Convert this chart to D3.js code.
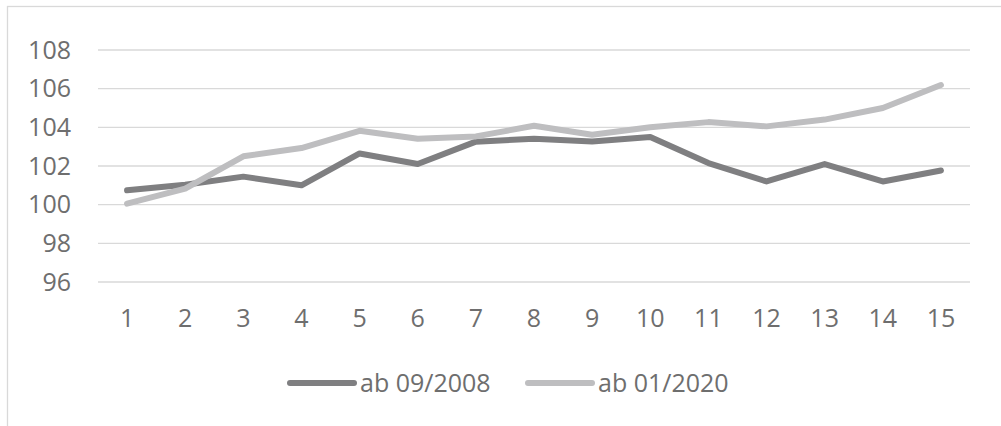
<!DOCTYPE html>
<html>
<head>
<meta charset="utf-8">
<script src="https://cdn.jsdelivr.net/npm/d3@7"></script>
<style>
  html, body { margin: 0; padding: 0; background: #fff; }
  svg { display: block; font-family: "Open Sans", sans-serif; }
</style>
</head>
<body>
<svg id="chart" width="1001" height="426"></svg>
<script>
// x categories and the two index series
const categories = ['1', '2', '3', '4', '5', '6', '7', '8', '9', '10', '11', '12', '13', '14', '15'];
const series2008 = [100.74, 101.03, 101.45, 101.0, 102.65, 102.1, 103.26, 103.41, 103.27, 103.5, 102.15, 101.2, 102.1, 101.2, 101.77];
const series2020 = [100.05, 100.83, 102.5, 102.93, 103.82, 103.41, 103.53, 104.08, 103.62, 104.0, 104.27, 104.05, 104.4, 105.0, 106.19];
const yTicks = [96, 98, 100, 102, 104, 106, 108];
const seriesNames = ['ab 09/2008', 'ab 01/2020'];

const colors = ['#7f7f81', '#bebec0'];
const textColor = '#6e6e6e';
const fontSize = '25px';

const svg = d3.select('#chart');

// chart frame
svg.append('rect')
  .attr('x', 7.5).attr('y', 6.5)
  .attr('width', 1010).attr('height', 440)
  .attr('fill', 'none')
  .attr('stroke', '#d9d9d9')
  .attr('stroke-width', 1.3);

// plot area
const plot = { left: 98, right: 970, top: 50, bottom: 282 };

const x = d3.scaleBand()
  .domain(categories)
  .range([plot.left, plot.right]);

const y = d3.scaleLinear()
  .domain([96, 108])
  .range([plot.bottom, plot.top]);

// gridlines
svg.append('g')
  .selectAll('line')
  .data(yTicks)
  .join('line')
  .attr('x1', plot.left).attr('x2', plot.right)
  .attr('y1', d => y(d)).attr('y2', d => y(d))
  .attr('stroke', '#d9d9d9')
  .attr('stroke-width', 1.4);

// y axis labels
const yAxis = svg.append('g')
  .attr('transform', `translate(${plot.left - 27},0)`)
  .call(d3.axisLeft(y).tickValues(yTicks).tickSize(0).tickPadding(0));
yAxis.select('.domain').remove();
yAxis.selectAll('text')
  .attr('fill', textColor)
  .style('font-size', fontSize)
  .style('font-family', '"Open Sans", sans-serif');

// x axis labels
const xAxis = svg.append('g')
  .attr('transform', `translate(0,${plot.bottom + 27})`)
  .call(d3.axisBottom(x).tickSize(0).tickPadding(0));
xAxis.select('.domain').remove();
xAxis.selectAll('text')
  .attr('fill', textColor)
  .style('font-size', fontSize)
  .style('font-family', '"Open Sans", sans-serif');

// lines
const line = d3.line()
  .x((d, i) => x(categories[i]) + x.bandwidth() / 2)
  .y(d => y(d));

[series2008, series2020].forEach((s, i) => {
  svg.append('path')
    .datum(s)
    .attr('d', line)
    .attr('fill', 'none')
    .attr('stroke', colors[i])
    .attr('stroke-width', 6)
    .attr('stroke-linecap', 'round')
    .attr('stroke-linejoin', 'round');
});

// legend
const legendX = [290, 528];
const legendY = 383;
const legend = svg.append('g');
seriesNames.forEach((name, i) => {
  legend.append('line')
    .attr('x1', legendX[i]).attr('x2', legendX[i] + 64)
    .attr('y1', legendY).attr('y2', legendY)
    .attr('stroke', colors[i])
    .attr('stroke-width', 6)
    .attr('stroke-linecap', 'round');
  legend.append('text')
    .attr('x', legendX[i] + 70)
    .attr('y', legendY)
    .attr('dy', '0.35em')
    .attr('fill', textColor)
    .style('font-size', fontSize)
    .text(name);
});
</script>
</body>
</html>
